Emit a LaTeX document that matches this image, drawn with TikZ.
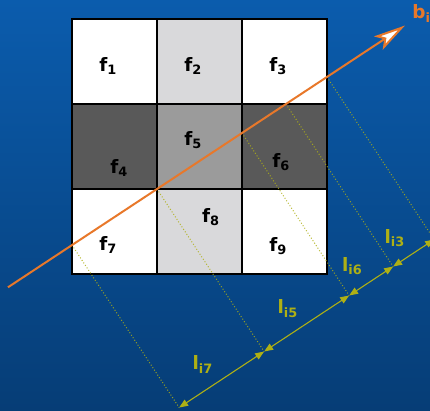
\documentclass[tikz,border=0pt]{standalone}
\usepackage{fontspec}
\setsansfont{DejaVu Sans}
\usepackage{tikz}
\usetikzlibrary{calc,arrows.meta}
\definecolor{figBgTop}{HTML}{0B5CAD}
\definecolor{figBgBot}{HTML}{063D76}
\definecolor{figOrange}{HTML}{E8782A}
\definecolor{figOlive}{HTML}{AEB015}
\definecolor{figLight}{HTML}{D9D9DB}
\definecolor{figMid}{HTML}{9B9B9B}
\definecolor{figDark}{HTML}{595959}

\begin{document}
\begin{tikzpicture}[
  % one grid cell is one unit
  x=3cm, y=3cm,
  cell/.style={
    rectangle, draw=black, line width=1.6pt,
    minimum size=3cm, inner sep=0pt
  },
  flabel/.style={font=\sffamily\bfseries\fontsize{18.5}{21}\selectfont, text=black},
  proj/.style={figOlive, opacity=0.85, line width=1pt, dotted},
  meas/.style={figOlive, line width=1.1pt,
    {Triangle[length=9pt,width=7pt]}-{Triangle[length=9pt,width=7pt]}},
  llabel/.style={font=\sffamily\bfseries\fontsize{18.5}{21}\selectfont,
    text=figOlive, midway, xshift=-19pt, yshift=15pt},
]

% --- Background ---
\useasboundingbox (-0.847,-1.6) rectangle (4.212,3.224);
\clip (-0.847,-1.6) rectangle (4.212,3.224);
\fill[top color=figBgTop, bottom color=figBgBot]
  (-0.847,-1.6) rectangle (4.212,3.224);

% --- Grid cells ---
\foreach \i/\c in {1/white,2/figLight,3/white,
                   4/figDark,5/figMid,6/figDark,
                   7/white,8/figLight,9/white} {
  \pgfmathtruncatemacro{\col}{mod(\i-1,3)}
  \pgfmathtruncatemacro{\row}{2-int((\i-1)/3)}
  \node[cell, fill=\c] (c\i) at (\col+0.5, \row+0.5) {};
}

% --- Cell labels ---
\foreach \i/\lx/\ly in {1/0.424/2.447, 2/1.424/2.447, 3/2.424/2.447,
                        4/0.553/1.247, 5/1.424/1.576, 6/2.459/1.318,
                        7/0.424/0.341, 8/1.635/0.671, 9/2.424/0.329} {
  \node[flabel] (f\i) at (\lx,\ly) {f\textsubscript{\i}};
}

% --- Beam crossings with cell borders ---
\def\slope{0.659}
\coordinate (p5) at (1,1);
\coordinate (p7) at (0,{1-\slope});
\coordinate (p6) at (2,{1+\slope});
\coordinate (p3a) at ({1+1/\slope},2);
\coordinate (p3) at (3,{1+2*\slope});
\coordinate (bS) at ($(p5)+(213.4:2.1)$);
\coordinate (bE) at ($(p5)+(33.4:3.495)$);

% --- Projections onto the measuring line ---
\foreach \p in {7,5,6,3a,3} {
  \coordinate (m\p) at ($(p\p)+(-56.6:2.29)$);
  \draw[proj] (p\p) -- (m\p);
}

% --- Path lengths ---
\draw[meas] (m7) -- (m5) node[llabel] {l\textsubscript{i7}};
\draw[meas] (m5) -- (m6) node[llabel] {l\textsubscript{i5}};
\draw[meas] (m6) -- (m3a) node[llabel] {l\textsubscript{i6}};
\draw[meas] (m3a) -- (m3) node[llabel] {l\textsubscript{i3}};

% --- Beam ---
\draw[figOrange, line width=2pt,
      -{Stealth[length=32pt,width=16pt,inset=7pt,fill=white]}]
  (bS) -- (bE);
\node[anchor=west, text=figOrange,
      font=\sffamily\bfseries\fontsize{18.5}{21}\selectfont]
  (bi) at ($(bE)+(4pt,12pt)$) {b\textsubscript{i}};

\end{tikzpicture}
\end{document}
